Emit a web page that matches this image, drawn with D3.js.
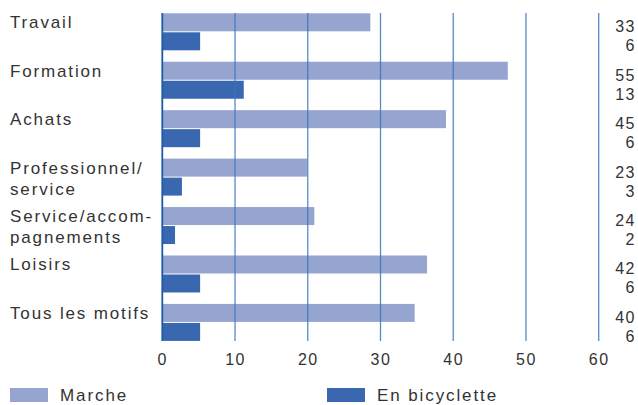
<!DOCTYPE html>
<html><head><meta charset="utf-8">
<script src="https://cdn.jsdelivr.net/npm/d3@7"></script>
<style>
body{margin:0;background:#fff;}
text{font-family:"Liberation Sans",Arial,sans-serif;fill:#333;}
</style></head>
<body><svg id="c" width="638" height="405"></svg>
<script>
const categories = [["Travail"],["Formation"],["Achats"],["Professionnel/","service"],["Service/accom-","pagnements"],["Loisirs"],["Tous les motifs"]];
const marche = [28.6, 47.5, 39.0, 19.9, 20.9, 36.4, 34.7];
const velo = [5.2, 11.2, 5.2, 2.7, 1.75, 5.2, 5.2];
const marcheLabels = ["33","55","45","23","24","42","40"];
const veloLabels = ["6","13","6","3","2","6","6"];
const ticks = [0,10,20,30,40,50,60];
const seriesNames = ["Marche","En bicyclette"];
const colors = ["#95a5d0","#3a68b0"];

const svg = d3.select("#c");
const x = d3.scaleLinear().domain([0,60]).range([162.3,598.7]);
const y = d3.scaleBand().domain(d3.range(categories.length)).range([13.3,303.9+48.45]).paddingInner(0).paddingOuter(0);
const bh = 18, gap = 1;

const g = svg.append("g");
g.selectAll(".m").data(marche).join("rect")
  .attr("x", x(0)).attr("y",(d,i)=>y(i)).attr("width",d=>x(d)-x(0)).attr("height",bh).attr("fill",colors[0]);
g.selectAll(".v").data(velo).join("rect")
  .attr("x", x(0)).attr("y",(d,i)=>y(i)+bh+gap).attr("width",d=>x(d)-x(0)).attr("height",bh).attr("fill",colors[1]);

// grid
const gy0 = 13, gy1 = 341;
svg.selectAll(".grid").data(ticks.slice(1)).join("line")
  .attr("x1",d=>x(d)).attr("x2",d=>x(d)).attr("y1",gy0).attr("y2",gy1)
  .attr("stroke","#3a76bd").attr("stroke-opacity",0.85).attr("stroke-width",1.3);
svg.append("line").attr("x1",x(0)).attr("x2",x(0)).attr("y1",gy0).attr("y2",gy1)
  .attr("stroke","#1a5aa8").attr("stroke-width",1.8);

// x axis ticks labels
const ax = svg.append("g").attr("transform","translate(0,364.5)")
  .call(d3.axisBottom(x).tickValues(ticks).tickSize(0).tickPadding(0));
ax.select(".domain").remove();
ax.selectAll("text").attr("dy",0).attr("font-size",16).style("font-family","Liberation Sans, Arial, sans-serif").attr("fill","#333").style("letter-spacing","1.5px");

// category labels
categories.forEach((lines,i)=>{
  const t = svg.append("text").attr("x",10).attr("font-size",17).style("letter-spacing","1.85px");
  const base = y(i)+15;
  lines.forEach((s,j)=>t.append("tspan").attr("x",10).attr("y",base+j*21).text(s));
});

// right value labels
svg.selectAll(".ml").data(marcheLabels).join("text")
  .attr("x",636).attr("y",(d,i)=>y(i)+bh+1).attr("text-anchor","end").attr("font-size",16).style("letter-spacing","1.5px").text(d=>d);
svg.selectAll(".vl").data(veloLabels).join("text")
  .attr("x",636).attr("y",(d,i)=>y(i)+2*bh+gap+1).attr("text-anchor","end").attr("font-size",16).style("letter-spacing","1.5px").text(d=>d);

// legend
const lx = [10,327];
seriesNames.forEach((n,i)=>{
  svg.append("rect").attr("x",lx[i]).attr("y",388).attr("width",38).attr("height",14).attr("fill",colors[i]);
  svg.append("text").attr("x",lx[i]+50).attr("y",401).attr("font-size",17).style("letter-spacing","1.9px").text(n);
});
</script></body></html>
